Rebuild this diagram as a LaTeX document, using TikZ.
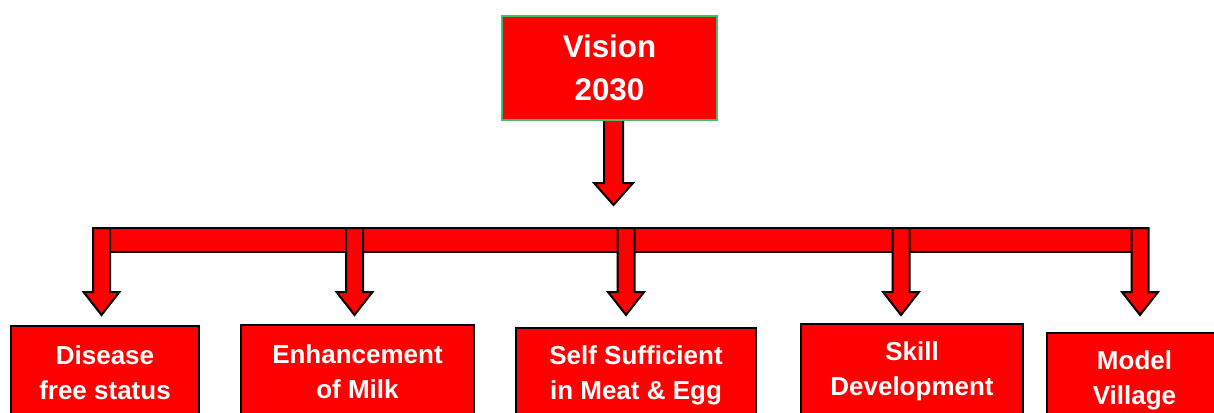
\documentclass[tikz,border=0pt]{standalone}
\usepackage{fontspec}
\setmainfont{Liberation Sans}
\usepackage{tikz}
\usetikzlibrary{calc}
\definecolor{visgreen}{RGB}{60,190,110}
\tikzset{goal/.style={rectangle, draw=black, line width=1.5pt, fill=red, text=white, inner sep=0pt, align=center, anchor=north, minimum height=70.5pt, font=\fontsize{19.5}{26}\selectfont\bfseries},
  top/.style={rectangle, draw=visgreen, line width=1.5pt, fill=red, text=white, inner sep=0pt, align=center, minimum width=161.25pt, minimum height=78pt, font=\fontsize{23.5}{32}\selectfont\bfseries},
  blk/.style={draw=black, line width=1.5pt, fill=red, line join=miter}}

\begin{document}
\begin{tikzpicture}[x=0.75pt,y=-0.75pt]
  \useasboundingbox (0,0) rectangle (1214,412);
  % arrow from the vision box
  \filldraw[blk] (604,121) -- (604,183) -- (594,183) -- (613.5,205) -- (633,183) -- (623,183) -- (623,121);
  \node[top] (vis) at (609.5,68) {Vision\\2030};
  \node[blk, minimum width=791.25pt, minimum height=18pt, inner sep=0pt] (bar) at (620.5,240) {};
  \foreach \x in {101.5,354.5,626,901,1140}
    \draw[blk] (\x-8.5,228) -- (\x-8.5,292) -- (\x-18,292) -- (\x,315) -- (\x+18,292) -- (\x+8.5,292) -- (\x+8.5,228) -- cycle;
  \node[goal, minimum width=141pt] (d1) at (105,325) {Disease\\free status};
  \node[goal, minimum width=174.75pt] (d2) at (357.5,324) {Enhancement\\of Milk};
  \node[goal, minimum width=180pt] (d3) at (636,327) {Self Sufficient\\in Meat \& Egg};
  \node[goal, minimum width=166.5pt] (d4) at (912,323) {Skill\\Development};
  \node[goal, minimum width=131.25pt] (d5) at (1134.5,332) {Model\\Village};
\end{tikzpicture}
\end{document}
